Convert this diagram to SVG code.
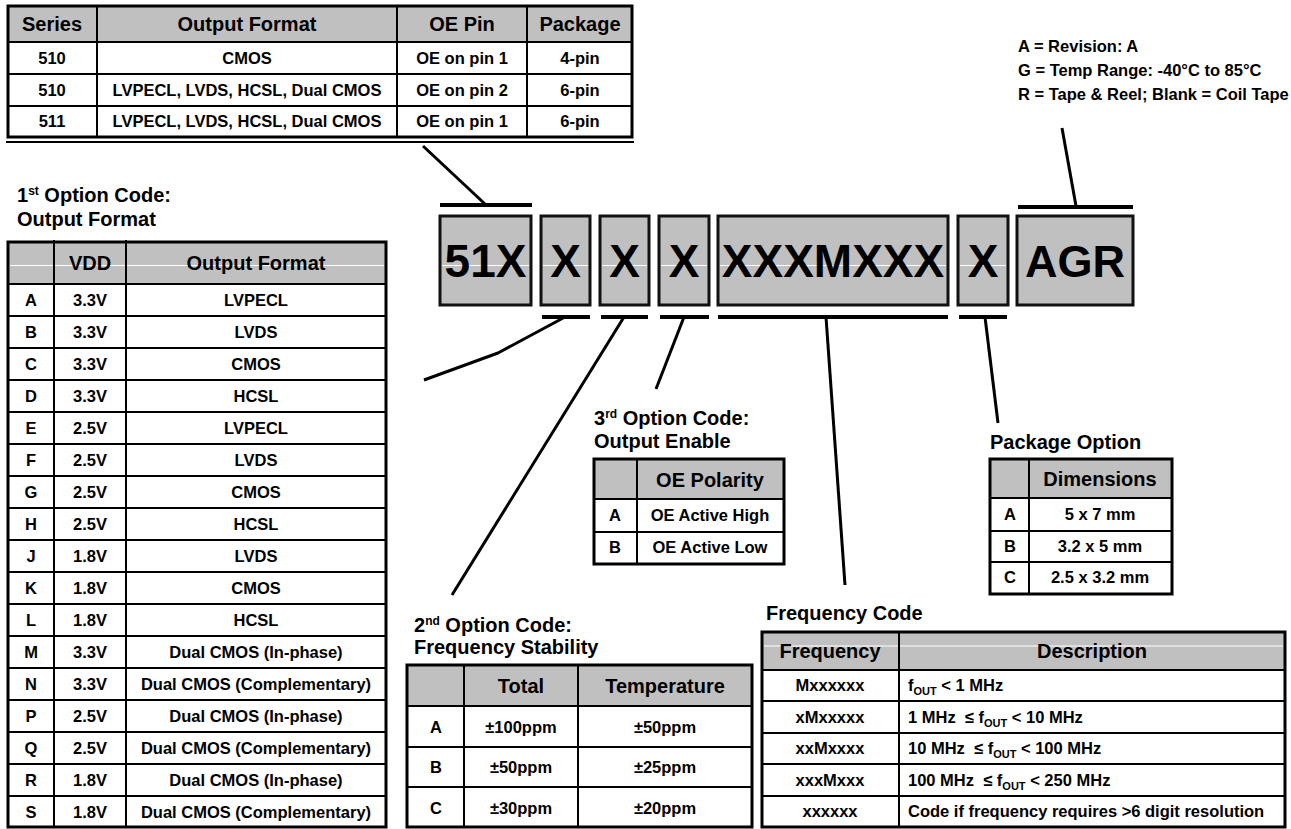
<svg xmlns="http://www.w3.org/2000/svg" width="1291" height="829" viewBox="0 0 1291 829">
<style>
text{font-family:"Liberation Sans",Arial,Helvetica,sans-serif;font-weight:bold;fill:#000;white-space:pre}
.h{font-size:20px;text-anchor:middle}
.b{font-size:16.5px;text-anchor:middle}
.bl{font-size:16.5px}
.lab{font-size:20px}
.big{font-size:46px;text-anchor:middle}
.gray{fill:#c0c0c0}
.outer{fill:none;stroke:#000;stroke-width:3}
.grid{stroke:#000;stroke-width:2;fill:none}
.box{fill:#c0c0c0;stroke:#111;stroke-width:3}
.wl{stroke:#fff;stroke-width:1}
.bar{fill:#000}
.con{fill:none;stroke:#000;stroke-width:3;stroke-linecap:butt;stroke-linejoin:round}
.sup{font-size:12px}
.sub{font-size:11px}
</style>

<g id="series-table">
<rect class="gray" x="8" y="6" width="624" height="36"/>
<path class="grid" d="M8 42H632M8 74H632M8 106H632M97 6V137M397 6V137M527 6V137"/>
<rect class="outer" x="8" y="6" width="624" height="131"/>
<path class="grid" d="M6 142H634"/>
<text class="h" x="52" y="31">Series</text>
<text class="h" x="247" y="31">Output Format</text>
<text class="h" x="462" y="31">OE Pin</text>
<text class="h" x="580" y="31">Package</text>
<text class="b" x="52" y="64">510</text>
<text class="b" x="247" y="64">CMOS</text>
<text class="b" x="462" y="64">OE on pin 1</text>
<text class="b" x="580" y="64">4-pin</text>
<text class="b" x="52" y="96">510</text>
<text class="b" x="247" y="96">LVPECL, LVDS, HCSL, Dual CMOS</text>
<text class="b" x="462" y="96">OE on pin 2</text>
<text class="b" x="580" y="96">6-pin</text>
<text class="b" x="52" y="127">511</text>
<text class="b" x="247" y="127">LVPECL, LVDS, HCSL, Dual CMOS</text>
<text class="b" x="462" y="127">OE on pin 1</text>
<text class="b" x="580" y="127">6-pin</text>
</g>

<g id="option-notes">
<text class="bl" x="1018" y="52">A = Revision: A</text>
<text class="bl" x="1018" y="76">G = Temp Range: -40°C to 85°C</text>
<text class="bl" x="1018" y="100">R = Tape &amp; Reel; Blank = Coil Tape</text>
</g>

<g id="part-number">
<rect class="box" x="440" y="216" width="91" height="89"/>
<rect class="box" x="541" y="216" width="49" height="89"/>
<rect class="box" x="600" y="216" width="49" height="89"/>
<rect class="box" x="659" y="216" width="50" height="89"/>
<rect class="box" x="718" y="216" width="230" height="89"/>
<rect class="box" x="958" y="216" width="50" height="89"/>
<rect class="box" x="1017" y="216" width="116" height="89"/>
<path class="wl" d="M442 265.5H529M543 265.5H588M602 265.5H647M661 265.5H707M720 265.5H946M960 265.5H1006"/>
<text class="big" x="485.5" y="277">51X</text>
<text class="big" x="565.5" y="277">X</text>
<text class="big" x="624.5" y="277">X</text>
<text class="big" x="684" y="277">X</text>
<text class="big" x="833" y="277">XXXMXXX</text>
<text class="big" x="983" y="277">X</text>
<text class="big" x="1075" y="277" style="font-size:45px">AGR</text>
<rect class="bar" x="440" y="203" width="92" height="4"/>
<rect class="bar" x="1018" y="205" width="115" height="4"/>
<rect class="bar" x="542" y="315" width="48" height="4"/>
<rect class="bar" x="601" y="315" width="47" height="4"/>
<rect class="bar" x="660" y="315" width="49" height="4"/>
<rect class="bar" x="718" y="315" width="230" height="4"/>
<rect class="bar" x="959" y="315" width="48" height="4"/>
</g>

<g id="connectors">
<path class="con" d="M423 146L485 204"/>
<path class="con" d="M1076 206L1062 128"/>
<path class="con" d="M565 317L498 353L424 380"/>
<path class="con" d="M624 317L452 595"/>
<path class="con" d="M684 317L656 389"/>
<path class="con" d="M826 317L845 585"/>
<path class="con" d="M985 317L998 423"/>
</g>

<g id="output-format-table">
<text class="lab" x="17" y="202">1<tspan class="sup" dy="-7">st</tspan><tspan dy="7"> Option Code:</tspan></text>
<text class="lab" x="17" y="226">Output Format</text>
<rect class="gray" x="8" y="242" width="378" height="42"/>
<path class="wl" d="M10 265.5H384"/>
<path class="grid" d="M54 240V827M126 240V827M8 284H386M8 316H386M8 348H386M8 380H386M8 412H386M8 444H386M8 476H386M8 508H386M8 540H386M8 572H386M8 604H386M8 636H386M8 668H386M8 700H386M8 732H386M8 764H386M8 796H386"/>
<rect class="outer" x="8" y="242" width="378" height="585"/>
<text class="h" x="90" y="270">VDD</text>
<text class="h" x="256" y="270">Output Format</text>
<g class="rows">
<text class="b" x="31" y="306">A</text><text class="b" x="90" y="306">3.3V</text><text class="b" x="256" y="306">LVPECL</text>
<text class="b" x="31" y="338">B</text><text class="b" x="90" y="338">3.3V</text><text class="b" x="256" y="338">LVDS</text>
<text class="b" x="31" y="370">C</text><text class="b" x="90" y="370">3.3V</text><text class="b" x="256" y="370">CMOS</text>
<text class="b" x="31" y="402">D</text><text class="b" x="90" y="402">3.3V</text><text class="b" x="256" y="402">HCSL</text>
<text class="b" x="31" y="434">E</text><text class="b" x="90" y="434">2.5V</text><text class="b" x="256" y="434">LVPECL</text>
<text class="b" x="31" y="466">F</text><text class="b" x="90" y="466">2.5V</text><text class="b" x="256" y="466">LVDS</text>
<text class="b" x="31" y="498">G</text><text class="b" x="90" y="498">2.5V</text><text class="b" x="256" y="498">CMOS</text>
<text class="b" x="31" y="530">H</text><text class="b" x="90" y="530">2.5V</text><text class="b" x="256" y="530">HCSL</text>
<text class="b" x="31" y="562">J</text><text class="b" x="90" y="562">1.8V</text><text class="b" x="256" y="562">LVDS</text>
<text class="b" x="31" y="594">K</text><text class="b" x="90" y="594">1.8V</text><text class="b" x="256" y="594">CMOS</text>
<text class="b" x="31" y="626">L</text><text class="b" x="90" y="626">1.8V</text><text class="b" x="256" y="626">HCSL</text>
<text class="b" x="31" y="658">M</text><text class="b" x="90" y="658">3.3V</text><text class="b" x="256" y="658">Dual CMOS (In-phase)</text>
<text class="b" x="31" y="690">N</text><text class="b" x="90" y="690">3.3V</text><text class="b" x="256" y="690">Dual CMOS (Complementary)</text>
<text class="b" x="31" y="722">P</text><text class="b" x="90" y="722">2.5V</text><text class="b" x="256" y="722">Dual CMOS (In-phase)</text>
<text class="b" x="31" y="754">Q</text><text class="b" x="90" y="754">2.5V</text><text class="b" x="256" y="754">Dual CMOS (Complementary)</text>
<text class="b" x="31" y="786">R</text><text class="b" x="90" y="786">1.8V</text><text class="b" x="256" y="786">Dual CMOS (In-phase)</text>
<text class="b" x="31" y="818">S</text><text class="b" x="90" y="818">1.8V</text><text class="b" x="256" y="818">Dual CMOS (Complementary)</text>
</g>
</g>

<g id="output-enable-table">
<text class="lab" x="594" y="425">3<tspan class="sup" dy="-7">rd</tspan><tspan dy="7"> Option Code:</tspan></text>
<text class="lab" x="594" y="448">Output Enable</text>
<rect class="gray" x="594" y="459" width="190" height="40"/>
<path class="grid" d="M594 499H784M594 532H784M637 459V564"/>
<rect class="outer" x="594" y="459" width="190" height="105"/>
<text class="h" x="710" y="487">OE Polarity</text>
<text class="b" x="615" y="521">A</text><text class="b" x="710" y="521">OE Active High</text>
<text class="b" x="615" y="553">B</text><text class="b" x="710" y="553">OE Active Low</text>
</g>

<g id="package-table">
<text class="lab" x="990" y="449">Package Option</text>
<rect class="gray" x="990" y="459" width="182" height="39"/>
<path class="grid" d="M990 498H1172M990 531H1172M990 562H1172M1029 459V594"/>
<rect class="outer" x="990" y="459" width="182" height="135"/>
<text class="h" x="1100" y="486">Dimensions</text>
<text class="b" x="1010" y="520">A</text><text class="b" x="1100" y="520">5 x 7 mm</text>
<text class="b" x="1010" y="552">B</text><text class="b" x="1100" y="552">3.2 x 5 mm</text>
<text class="b" x="1010" y="583">C</text><text class="b" x="1100" y="583">2.5 x 3.2 mm</text>
</g>

<g id="stability-table">
<text class="lab" x="414" y="632">2<tspan class="sup" dy="-7">nd</tspan><tspan dy="7"> Option Code:</tspan></text>
<text class="lab" x="414" y="654">Frequency Stability</text>
<rect class="gray" x="407" y="665" width="345" height="41"/>
<path class="grid" d="M407 706H752M407 747H752M407 787H752M464 665V827M578 665V827"/>
<rect class="outer" x="407" y="665" width="345" height="162"/>
<text class="h" x="521" y="693">Total</text>
<text class="h" x="665" y="693">Temperature</text>
<text class="b" x="436" y="733">A</text><text class="b" x="521" y="733">±100ppm</text><text class="b" x="665" y="733">±50ppm</text>
<text class="b" x="436" y="773">B</text><text class="b" x="521" y="773">±50ppm</text><text class="b" x="665" y="773">±25ppm</text>
<text class="b" x="436" y="814">C</text><text class="b" x="521" y="814">±30ppm</text><text class="b" x="665" y="814">±20ppm</text>
</g>

<g id="frequency-table">
<text class="lab" x="766" y="620">Frequency Code</text>
<rect class="gray" x="762" y="632" width="523" height="38"/>
<path class="wl" d="M764 646H1283"/>
<path class="grid" d="M762 670H1285M762 701H1285M762 733H1285M762 764H1285M762 796H1285M899 632V827"/>
<rect class="outer" x="762" y="632" width="523" height="195"/>
<text class="h" x="830" y="658">Frequency</text>
<text class="h" x="1092" y="658">Description</text>
<text class="b" x="830" y="691">Mxxxxxx</text>
<text class="bl" x="908" y="691">f<tspan class="sub" dy="4">OUT</tspan><tspan dy="-4"> &lt; 1 MHz</tspan></text>
<text class="b" x="830" y="723">xMxxxxx</text>
<text class="bl" x="908" y="723">1 MHz  ≤ f<tspan class="sub" dy="4">OUT</tspan><tspan dy="-4"> &lt; 10 MHz</tspan></text>
<text class="b" x="830" y="754">xxMxxxx</text>
<text class="bl" x="908" y="754">10 MHz  ≤ f<tspan class="sub" dy="4">OUT</tspan><tspan dy="-4"> &lt; 100 MHz</tspan></text>
<text class="b" x="830" y="786">xxxMxxx</text>
<text class="bl" x="908" y="786">100 MHz  ≤ f<tspan class="sub" dy="4">OUT</tspan><tspan dy="-4"> &lt; 250 MHz</tspan></text>
<text class="b" x="830" y="817">xxxxxx</text>
<text class="bl" x="908" y="817">Code if frequency requires &gt;6 digit resolution</text>
</g>
</svg>
